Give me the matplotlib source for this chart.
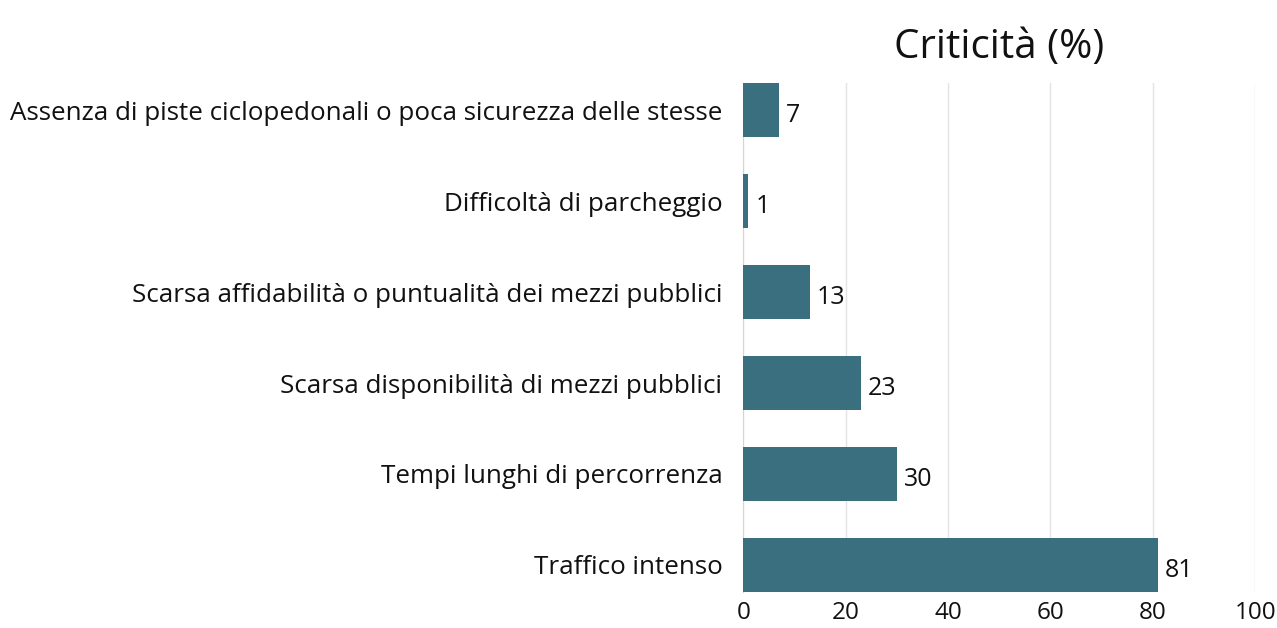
import matplotlib.pyplot as plt

plt.rcParams['font.family'] = ['Open Sans', 'DejaVu Sans']

categories = [
    'Traffico intenso',
    'Tempi lunghi di percorrenza',
    'Scarsa disponibilità di mezzi pubblici',
    'Scarsa affidabilità o puntualità dei mezzi pubblici',
    'Difficoltà di parcheggio',
    'Assenza di piste ciclopedonali o poca sicurezza delle stesse',
]
values = [81, 30, 23, 13, 1, 7]
xticks = [0, 20, 40, 60, 80, 100]

bar_color = '#3a6f80'
grid_color = '#e3e3e3'

fig = plt.figure(figsize=(12.77, 6.28), dpi=100)
ax = fig.add_axes([0.582, 0.057, 0.401, 0.811])

ypos = range(len(categories))
ax.barh(ypos, values, height=0.6, color=bar_color, zorder=3)

for y, v in zip(ypos, values):
    ax.text(v + 1.4, y - 0.06, str(v), va='center', ha='left', fontsize=18, color='#111111')

ax.set_xlim(0, 100)
ax.set_ylim(-0.3, 5.3)
ax.set_yticks(list(ypos))
ax.set_yticklabels(categories, fontsize=18.7, color='#111111')
ax.set_xticks(xticks)
ax.set_xticklabels([str(t) for t in xticks], fontsize=17.5, color='#111111')

ax.tick_params(axis='both', length=0)
ax.tick_params(axis='y', pad=15)
ax.tick_params(axis='x', pad=6)
ax.grid(axis='x', color=grid_color, linewidth=1, zorder=0)
for s in ['top', 'right', 'bottom']:
    ax.spines[s].set_visible(False)
ax.spines['left'].set_color('#d5d5d5')

ax.set_title('Criticità (%)', fontsize=29, color='#111111', pad=18)

fig.savefig('out.png', dpi=100)
